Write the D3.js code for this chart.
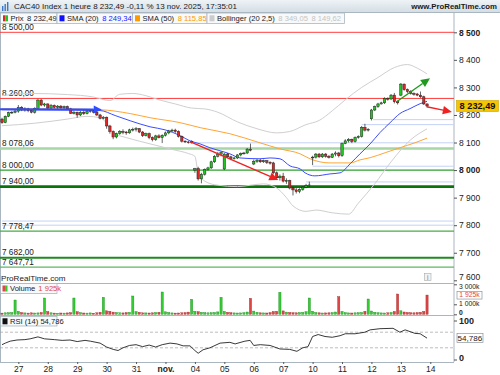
<!DOCTYPE html>
<html>
<head>
<meta charset="utf-8">
<title>CAC40 Index 1 heure</title>
<script src="https://d3js.org/d3.v7.min.js"></script>
<style>
  body { margin: 0; background: #fff; }
  svg { display: block; font-family: "Liberation Sans", Arial, sans-serif; }
</style>
</head>
<body>
<svg width="500" height="375"></svg>
<script>
// ---- data (hourly bars, 24 oct. -> 13 nov. 2025) ----
const dayTicks  = [5, 14, 23, 32, 41, 50, 59, 68, 77, 86, 95, 104, 113, 122, 131];
const dayLabels = ["27","28","29","30","31","nov.","04","05","06","07","10","11","12","13","14"];

const opens = [
  8185, 8172, 8195, 8208, 8210,
  8214, 8228, 8218, 8222, 8216, 8210, 8224, 8254, 8236,
  8240, 8225, 8234, 8228, 8232, 8226, 8230, 8222, 8206,
  8210, 8200, 8210, 8205, 8212, 8215, 8210, 8200, 8188,
  8192, 8160, 8140, 8120, 8132, 8140, 8138, 8135, 8146,
  8148, 8150, 8138, 8125, 8132, 8118, 8110, 8124, 8118,
  8126, 8135, 8142, 8145, 8140, 8122, 8105, 8102, 8100,
  8000, 8005, 7968, 7985, 8002, 8008, 8030, 8050, 8058,
  8004, 8058, 8048, 8042, 8044, 8055, 8060, 8062, 8076,
  8022, 8032, 8036, 8030, 8034, 8028, 8026, 7990, 7972,
  7978, 7960, 7962, 7935, 7928, 7922, 7930, 7938, 7944,
  8045, 8047, 8058, 8048, 8058, 8050, 8046, 8058, 8062,
  8052, 8096, 8106, 8112, 8104, 8118, 8122, 8155, 8145,
  8186, 8218, 8230, 8240, 8244, 8260, 8258, 8272, 8248,
  8272, 8312, 8292, 8285, 8278, 8276, 8272, 8266, 8240
];
const highs = [
  8190, 8198, 8212, 8214, 8218,
  8236, 8232, 8228, 8226, 8222, 8228, 8258, 8258, 8244,
  8242, 8240, 8238, 8236, 8236, 8234, 8234, 8226, 8214,
  8212, 8214, 8216, 8218, 8220, 8220, 8214, 8204, 8196,
  8194, 8164, 8144, 8136, 8145, 8148, 8142, 8150, 8154,
  8156, 8152, 8142, 8136, 8136, 8122, 8128, 8130, 8130,
  8140, 8146, 8150, 8150, 8144, 8125, 8108, 8106, 8108,
  8008, 8012, 7990, 8006, 8012, 8034, 8054, 8066, 8068,
  8062, 8062, 8052, 8048, 8058, 8064, 8066, 8080, 8096,
  8038, 8040, 8040, 8038, 8036, 8032, 8030, 7995, 7984,
  7990, 7970, 7965, 7940, 7935, 7934, 7942, 7950, 7958,
  8052, 8062, 8062, 8062, 8062, 8055, 8062, 8068, 8066,
  8100, 8112, 8116, 8114, 8122, 8126, 8160, 8168, 8152,
  8222, 8234, 8244, 8248, 8264, 8264, 8276, 8280, 8252,
  8316, 8314, 8296, 8290, 8282, 8280, 8285, 8270, 8242
];
const lows = [
  8168, 8170, 8192, 8204, 8206,
  8208, 8214, 8212, 8210, 8206, 8205, 8222, 8232, 8230,
  8220, 8222, 8224, 8222, 8222, 8220, 8218, 8204, 8202,
  8190, 8196, 8200, 8202, 8208, 8206, 8196, 8184, 8184,
  8150, 8132, 8112, 8115, 8128, 8130, 8128, 8132, 8140,
  8140, 8134, 8120, 8122, 8112, 8104, 8106, 8115, 8098,
  8122, 8130, 8138, 8135, 8118, 8100, 8098, 8096, 8096,
  7990, 7962, 7952, 7980, 7998, 8004, 8026, 8046, 8050,
  8000, 8044, 8036, 8038, 8040, 8050, 8056, 8058, 8068,
  8018, 8026, 8026, 8026, 8022, 8020, 7985, 7965, 7962,
  7955, 7950, 7930, 7908, 7915, 7916, 7925, 7934, 7940,
  8018, 8042, 8044, 8044, 8045, 8042, 8044, 8050, 8046,
  8048, 8094, 8100, 8098, 8100, 8114, 8118, 8140, 8140,
  8180, 8214, 8226, 8238, 8240, 8252, 8254, 8242, 8238,
  8268, 8288, 8280, 8274, 8270, 8268, 8262, 8236, 8228
];
const closes = [
  8172, 8195, 8208, 8210, 8214,
  8228, 8218, 8222, 8216, 8210, 8224, 8254, 8236, 8240,
  8225, 8234, 8228, 8232, 8226, 8230, 8222, 8206, 8210,
  8200, 8210, 8205, 8212, 8215, 8210, 8200, 8188, 8192,
  8160, 8140, 8120, 8132, 8140, 8138, 8135, 8146, 8148,
  8150, 8138, 8125, 8132, 8118, 8110, 8124, 8118, 8126,
  8135, 8142, 8145, 8140, 8122, 8105, 8102, 8100, 8104,
  8005, 7968, 7985, 8002, 8008, 8030, 8050, 8058, 8064,
  8058, 8048, 8042, 8044, 8055, 8060, 8062, 8076, 8072,
  8032, 8036, 8030, 8034, 8028, 8026, 7990, 7972, 7978,
  7960, 7962, 7935, 7928, 7922, 7930, 7938, 7944, 7946,
  8047, 8058, 8048, 8058, 8050, 8046, 8058, 8062, 8052,
  8096, 8106, 8112, 8104, 8118, 8122, 8155, 8145, 8148,
  8218, 8230, 8240, 8244, 8260, 8258, 8272, 8248, 8244,
  8312, 8292, 8285, 8278, 8276, 8272, 8266, 8240, 8232.49
];
// volume in thousands
const volumes = [
  120, 150, 160, 180, 1430,
  300, 180, 140, 120, 150, 130, 140, 180, 1630,
  280, 150, 120, 110, 130, 120, 140, 170, 1630,
  260, 170, 130, 120, 140, 110, 150, 200, 1700,
  350, 300, 220, 180, 150, 140, 170, 190, 1830,
  270, 200, 150, 140, 130, 150, 180, 200, 2230,
  250, 180, 140, 120, 130, 150, 170, 220, 1500,
  300, 260, 200, 170, 150, 160, 180, 240, 1700,
  290, 200, 160, 140, 130, 140, 160, 230, 1600,
  320, 200, 150, 140, 130, 170, 280, 300, 2200,
  340, 220, 180, 160, 150, 170, 190, 260, 1630,
  310, 180, 150, 130, 140, 150, 170, 230, 1760,
  290, 170, 140, 130, 150, 160, 180, 300, 1530,
  330, 200, 160, 140, 130, 150, 180, 280, 2030,
  350, 230, 180, 160, 150, 170, 200, 290, 1925
];

// indicators, read at sample bars
const sma20Bar = [0,15,30,34.6,39.2,45.3,49.9,54.5,57.5,60.6,63.6,66.7,69.7,72.8,78.9,82,85,88.1,91.2,92.7,95.7,100.3,103.4,106.5,109.5,112.6,115.6,118.7,121.7,124.8,127.9,130];
const sma20Val = [8219,8218,8216,8198,8179,8157,8146,8125,8106,8095,8081,8070,8059,8044,8041,8044,8041,8015,8004,7990,7979,7986,7990,8023,8059,8095,8136,8172,8205,8223,8241,8249.34];
const sma50Bar = [0,15,30,39.2,45.3,54.5,60.6,69.7,78.9,85,91.2,94.2,100.3,106.5,109.5,112.6,117.2,121.7,126.3,130];
const sma50Val = [8222,8222,8219,8205,8190,8172,8154,8132,8099,8077,8059,8041,8026,8026,8037,8045,8063,8081,8099,8115.85];
const bollUpBar = [0,9,20,28,31,33,36,40,44,48,53,58,62,66,72,78,84,88,93,97,101,105,110,115,120,124,127,130];
const bollUpVal = [8270,8278,8274,8265,8256,8252,8275,8278,8270,8255,8240,8225,8222,8210,8175,8150,8135,8140,8165,8180,8215,8255,8300,8336,8372,8383,8370,8349.05];
const bollLoBar = [0,10,20,26,30,32,34,38,42,47,52,57,59,60,62,66,72,76,80,84,87,89,93,96,101,106,109,114,119,125,130];
const bollLoVal = [8161,8170,8185,8195,8190,8170,8135,8118,8105,8090,8075,8060,8050,7990,7960,7945,7940,7945,7950,7935,7900,7870,7850,7855,7845,7840,7880,7950,8030,8110,8149.62];
const rsiBar = [0,1,2.5,4.6,7,8.6,11,13,16,18.4,20.8,23,25.4,27,30,32,34,35.5,37,39,41,43,45,47,49,51.4,53.5,55.4,57.5,59,60,61.5,63.6,66.7,69.7,71.3,74.3,75.9,77,79,82,85,88,90.2,92,93.6,95,96.7,98.8,101,103.4,105,108,111,112.6,115.6,119.6,121.7,123.3,126.3,127.9,130];
const rsiVal = [38,42,47,50,51,53,58,53,51,49,50,46,49,47,42,32,26,23,30,36,38,33,37,32,38,42,40,35,35,23,16,25,30,42,44,40,47,49,36,38,36,27,26,21,30,33,59,64,59,57,61,66,66,70,76,79,80,70,76,67,66,54.786];

// drawn horizontal levels (labelled) and plain support lines (bar where they start)
const levelValues = [8500, 8260, 8078.06, 8000, 7940, 7778.47, 7682, 7647.71];
const supportValues = [8183, 8165, 8099, 8014, 7957, 7815, 7800];
const supportStart  = [113.5, 110, 57.5, 95, 93, 0, 0];
// drawn arrows: [bar, price]
const arrowFrom = [[-0.6, 8221], [57.5, 8103], [120.7, 8248], [129.9, 8230]];
const arrowTo   = [[30.5, 8220], [84.5, 7964], [130.9, 8333], [137.6, 8211]];

// ---- styles ----
const levelColor = ["#ff3c3c","#ff3c3c","#a6d6a6","#2f9f2f","#0a740a","#46ad46","#1f8a1f","#5cb85c"];
const levelWidth = [1, 1, 2.5, 1.3, 2.6, 1.2, 2, 1.2];
const arrowColor = ["#2f4dff", "#ee2222", "#1f9a1f", "#ee2222"];
const arrowWidth = [2, 1.4, 1.4, 1.4];
const UP = "#22c322", DOWN = "#e02525";

const loc = d3.formatLocale({decimal: ",", thousands: " ", grouping: [3], currency: ["", ""]});
const f0 = loc.format(",.0f"), f2 = loc.format(",.2f");

const svg = d3.select("svg");
const W = 500, plotR = 454;

const x  = d3.scaleLinear().domain([0, 131]).range([2, 430.3]);
const y  = d3.scaleLinear().domain([7600, 8500]).range([280.3, 32.3]);
const yv = d3.scaleLinear().domain([0, 3000]).range([314.3, 284.3]);
const yr = d3.scaleLinear().domain([0, 100]).range([359.5, 320.5]);

// header
const defs = svg.append("defs");
const hg = defs.append("linearGradient").attr("id", "hdr").attr("x1", 0).attr("y1", 0).attr("x2", 0).attr("y2", 1);
hg.append("stop").attr("offset", 0).attr("stop-color", "#eef3f6");
hg.append("stop").attr("offset", 1).attr("stop-color", "#d3dde3");
svg.append("rect").attr("width", W).attr("height", 12.5).attr("fill", "url(#hdr)");
svg.append("line").attr("x1", 0).attr("x2", W).attr("y1", 12.5).attr("y2", 12.5).attr("stroke", "#a9b6bf");
const ic = svg.append("g").attr("transform", "translate(2,2)");
[[0,4,5],[2.5,2,7],[5,0,9]].forEach(b => ic.append("rect").attr("x", b[0]).attr("y", b[1]).attr("width", 1.4).attr("height", b[2]).attr("fill", "#3b78c8"));
svg.append("text").attr("x", 14).attr("y", 9).attr("font-size", 8).attr("fill", "#1a1a1a")
  .text("CAC40 Index 1 heure 8 232,49 -0,11 % 13 nov. 2025, 17:35:01");
svg.append("text").attr("x", 497).attr("y", 9).attr("font-size", 7.8).attr("font-weight", "bold")
  .attr("text-anchor", "end").attr("fill", "#1a1a1a").text("www.ProRealTime.com");

// panel frames
const frame = svg.append("g").attr("stroke", "#a9b6bf").attr("fill", "none");
frame.append("line").attr("x1", 0.5).attr("x2", 0.5).attr("y1", 13).attr("y2", 362);
frame.append("line").attr("x1", plotR).attr("x2", plotR).attr("y1", 13).attr("y2", 362);
[283, 315, 362].forEach(v => frame.append("line").attr("x1", 0).attr("x2", plotR).attr("y1", v + 0.5).attr("y2", v + 0.5));

// ---- main price panel ----
const main = svg.append("g");
const clip = defs.append("clipPath").attr("id", "pc");
clip.append("rect").attr("x", 0).attr("y", 24).attr("width", plotR).attr("height", 258);

const lvl = main.append("g").attr("clip-path", "url(#pc)");
supportValues.forEach((v, i) => {
  lvl.append("line").attr("x1", x(supportStart[i])).attr("x2", plotR)
    .attr("y1", y(v)).attr("y2", y(v)).attr("stroke", "#c4d3f5").attr("stroke-width", 1);
});
levelValues.forEach((v, i) => {
  lvl.append("line").attr("x1", 0).attr("x2", plotR).attr("y1", y(v)).attr("y2", y(v))
    .attr("stroke", levelColor[i]).attr("stroke-width", levelWidth[i]);
  lvl.append("text").attr("x", 2).attr("y", y(v) - levelWidth[i] / 2 - 1.5)
    .attr("font-size", 8.2).attr("fill", "#1a1a1a").text(f2(v));
});

const line = d3.line().curve(d3.curveMonotoneX);
function series(bars, vals, color, w) {
  main.append("path").attr("clip-path", "url(#pc)")
    .attr("d", line(bars.map((b, i) => [x(b), y(vals[i])])))
    .attr("fill", "none").attr("stroke", color).attr("stroke-width", w);
}
series(bollUpBar, bollUpVal, "#cfcfcf", 1);
series(bollLoBar, bollLoVal, "#cfcfcf", 1);
series(sma50Bar, sma50Val, "#ffa533", 1);
series(sma20Bar, sma20Val, "#3b4cff", 1);

// candles
const idx = d3.range(closes.length);
const cg = main.append("g");
cg.selectAll("line").data(idx).join("line")
  .attr("x1", i => x(i)).attr("x2", i => x(i))
  .attr("y1", i => y(highs[i])).attr("y2", i => y(lows[i]))
  .attr("stroke", "#222").attr("stroke-width", 0.7);
cg.selectAll("rect").data(idx).join("rect")
  .attr("x", i => x(i) - 1.2).attr("width", 2.4)
  .attr("y", i => y(Math.max(opens[i], closes[i])))
  .attr("height", i => Math.max(0.8, Math.abs(y(opens[i]) - y(closes[i]))))
  .attr("fill", i => closes[i] >= opens[i] ? UP : DOWN)
  .attr("stroke", "#1a1a1a").attr("stroke-width", 0.45);

// arrows
arrowFrom.forEach((a, i) => {
  const b = arrowTo[i];
  const x1 = x(a[0]), y1 = y(a[1]), x2 = x(b[0]), y2 = y(b[1]);
  const ang = Math.atan2(y2 - y1, x2 - x1), L = i === 0 ? 8 : 9, H = i === 0 ? 4 : 4.2;
  const bx = x2 - L * Math.cos(ang), by = y2 - L * Math.sin(ang);
  main.append("line").attr("x1", x1).attr("y1", y1).attr("x2", bx).attr("y2", by)
    .attr("stroke", arrowColor[i]).attr("stroke-width", arrowWidth[i]);
  const px = -Math.sin(ang) * H, py = Math.cos(ang) * H;
  main.append("path").attr("d", `M${x2},${y2}L${bx + px},${by + py}L${bx - px},${by - py}Z`)
    .attr("fill", arrowColor[i]);
});

// price axis
const ax = svg.append("g").attr("transform", `translate(${plotR},0)`)
  .call(d3.axisRight(y).tickValues(d3.range(7600, 8501, 100)).tickSize(3).tickPadding(2).tickFormat(f0));
ax.select(".domain").remove();
ax.selectAll("line").attr("stroke", "#555");
ax.selectAll("text").attr("font-size", 8.5).attr("fill", "#222").attr("font-family", null)
  .attr("font-weight", d => d % 500 === 0 ? "bold" : "normal")
  .attr("dy", d => d === 7600 ? "-0.1em" : "0.32em");
const last = closes[closes.length - 1];
svg.append("rect").attr("x", 456.5).attr("y", y(last) - 5.5).attr("width", 42).attr("height", 11)
  .attr("fill", "#f7c500").attr("stroke", "#c9a400").attr("stroke-width", 0.6);
svg.append("text").attr("x", 477.5).attr("y", y(last) + 3.3).attr("text-anchor", "middle")
  .attr("font-size", 9.2).attr("font-weight", "bold").attr("fill", "#111").text(f2(last));

svg.append("text").attr("x", 1).attr("y", 280.5).attr("font-size", 8.1).attr("fill", "#222").text("ProRealTime.com");
svg.append("rect").attr("x", 424.5).attr("y", 273.5).attr("width", 6.5).attr("height", 7)
  .attr("fill", "#f2f2f2").attr("stroke", "#aaa").attr("stroke-width", 0.6);
svg.append("text").attr("x", 427.8).attr("y", 279.6).attr("text-anchor", "middle")
  .attr("font-size", 6.5).attr("fill", "#777").text("i");

// ---- volume panel ----
const vg = svg.append("g");
vg.selectAll("rect").data(idx).join("rect")
  .attr("x", i => x(i) - 1.1).attr("width", 2.2)
  .attr("y", i => yv(volumes[i])).attr("height", i => yv(0) - yv(volumes[i]))
  .attr("fill", i => closes[i] >= opens[i] ? "#33cc33" : "#dd4444")
  .attr("stroke", i => closes[i] >= opens[i] ? "#1d8f1d" : "#a52a2a").attr("stroke-width", 0.4);
const vax = svg.append("g").attr("transform", `translate(${plotR},0)`)
  .call(d3.axisRight(yv).tickValues([3000, 1000, 0]).tickSize(3).tickPadding(2)
    .tickFormat(d => d === 0 ? "0" : f0(d) + "k"));
vax.select(".domain").remove();
vax.selectAll("line").attr("stroke", "#555");
vax.selectAll("text").attr("font-size", 6.8).attr("fill", "#222").attr("font-family", null)
  .attr("font-weight", d => d === 0 ? "bold" : "normal")
  .attr("dy", d => d === 3000 ? "0.55em" : d === 0 ? "0.05em" : "0.2em");
const vLast = volumes[volumes.length - 1];
svg.append("rect").attr("x", 457).attr("y", yv(vLast) - 3.6).attr("width", 25).attr("height", 7.6)
  .attr("fill", "#fff").attr("stroke", "#8896a0").attr("stroke-width", 0.7);
svg.append("text").attr("x", 469.5).attr("y", yv(vLast) + 2.4).attr("text-anchor", "middle")
  .attr("font-size", 6.8).attr("fill", "#e04848").text(f0(vLast) + "k");

// ---- RSI panel ----
[70, 30].forEach(v => svg.append("line").attr("x1", 0).attr("x2", plotR).attr("y1", yr(v)).attr("y2", yr(v))
  .attr("stroke", "#a0a0a0").attr("stroke-width", 0.7).attr("stroke-dasharray", "3,2"));
svg.append("path").attr("d", d3.line()(rsiBar.map((b, i) => [x(b), yr(rsiVal[i])])))
  .attr("fill", "none").attr("stroke", "#222").attr("stroke-width", 0.9);
const rax = svg.append("g").attr("transform", `translate(${plotR},0)`)
  .call(d3.axisRight(yr).tickValues([100, 0]).tickSize(3).tickPadding(2));
rax.select(".domain").remove();
rax.selectAll("line").attr("stroke", "#555");
rax.selectAll("text").attr("font-size", 9).attr("font-weight", "bold").attr("fill", "#222").attr("font-family", null)
  .attr("dy", d => d === 0 ? "0.1em" : "0.32em");
const rLast = rsiVal[rsiVal.length - 1];
svg.append("rect").attr("x", 457).attr("y", yr(rLast) - 4.5).attr("width", 26).attr("height", 9)
  .attr("fill", "#fff").attr("stroke", "#8896a0").attr("stroke-width", 0.7);
svg.append("text").attr("x", 470).attr("y", yr(rLast) + 3).attr("text-anchor", "middle")
  .attr("font-size", 8.1).attr("fill", "#222").text(loc.format(",.3f")(rLast));

// ---- time axis ----
const xa = svg.append("g").attr("transform", "translate(0,362)")
  .call(d3.axisBottom(x).tickValues(dayTicks).tickSize(2).tickPadding(2).tickFormat((d, i) => dayLabels[i]));
xa.select(".domain").remove();
xa.selectAll("line").attr("stroke", "#555");
xa.selectAll("text").attr("font-size", 8.5).attr("fill", "#222").attr("font-family", null)
  .attr("font-weight", (d, i) => dayLabels[i] === "nov." ? "bold" : "normal");

// ---- legends ----
function legend(g, x0, x1, y0, y1) {
  g.append("rect").attr("x", x0).attr("y", y0).attr("width", x1 - x0).attr("height", y1 - y0)
    .attr("fill", "#f7f9fa").attr("stroke", "#a9b6bf").attr("stroke-width", 0.8);
}
function swatch(g, x0, y0, c1, c2) {
  g.append("rect").attr("x", x0).attr("y", y0).attr("width", c2 ? 2.5 : 5).attr("height", 6).attr("fill", c1);
  if (c2) g.append("rect").attr("x", x0 + 2.5).attr("y", y0).attr("width", 2.5).attr("height", 6).attr("fill", c2);
}
const lg = svg.append("g");
const items = [
  {x0: 0.5, x1: 57, c1: "#e02525", c2: "#22c322", name: "Prix", vals: ["8 232,49"], col: "#222"},
  {x0: 57, x1: 132.5, c1: "#1010ff", name: "SMA (20)", vals: ["8 249,34"], col: "#2020ff"},
  {x0: 132.5, x1: 207, c1: "#ff9900", name: "SMA (50)", vals: ["8 115,85"], col: "#ff9900"},
  {x0: 207, x1: 344.5, c1: "#cccccc", name: "Bollinger (20 2,5)", vals: ["8 349,05", "8 149,62"], col: "#c4c4c4"}
];
items.forEach(it => {
  legend(lg, it.x0, it.x1, 13, 23.5);
  swatch(lg, it.x0 + 2.5, 15.3, it.c1, it.c2);
  const t = lg.append("text").attr("x", it.x0 + 10).attr("y", 21).attr("font-size", 7.6).attr("fill", "#222");
  t.append("tspan").text(it.name);
  it.vals.forEach(v => t.append("tspan").attr("dx", 3.5).attr("fill", it.col).text(v));
});
legend(lg, 0.5, 57, 283.5, 293.5);
swatch(lg, 2.5, 285.5, "#e04848", "#33cc33");
const vt = lg.append("text").attr("x", 10).attr("y", 291.3).attr("font-size", 7.6).attr("fill", "#222");
vt.append("tspan").text("Volume");
vt.append("tspan").attr("dx", 3).attr("fill", "#e04848").text(f0(vLast) + "k");
legend(lg, 0.5, 57, 316.5, 326);
swatch(lg, 2.5, 318.3, "#111");
lg.append("text").attr("x", 10).attr("y", 324).attr("font-size", 7.6).attr("fill", "#222")
  .text("RSI (14) " + loc.format(",.3f")(rLast));
</script>
</body>
</html>
